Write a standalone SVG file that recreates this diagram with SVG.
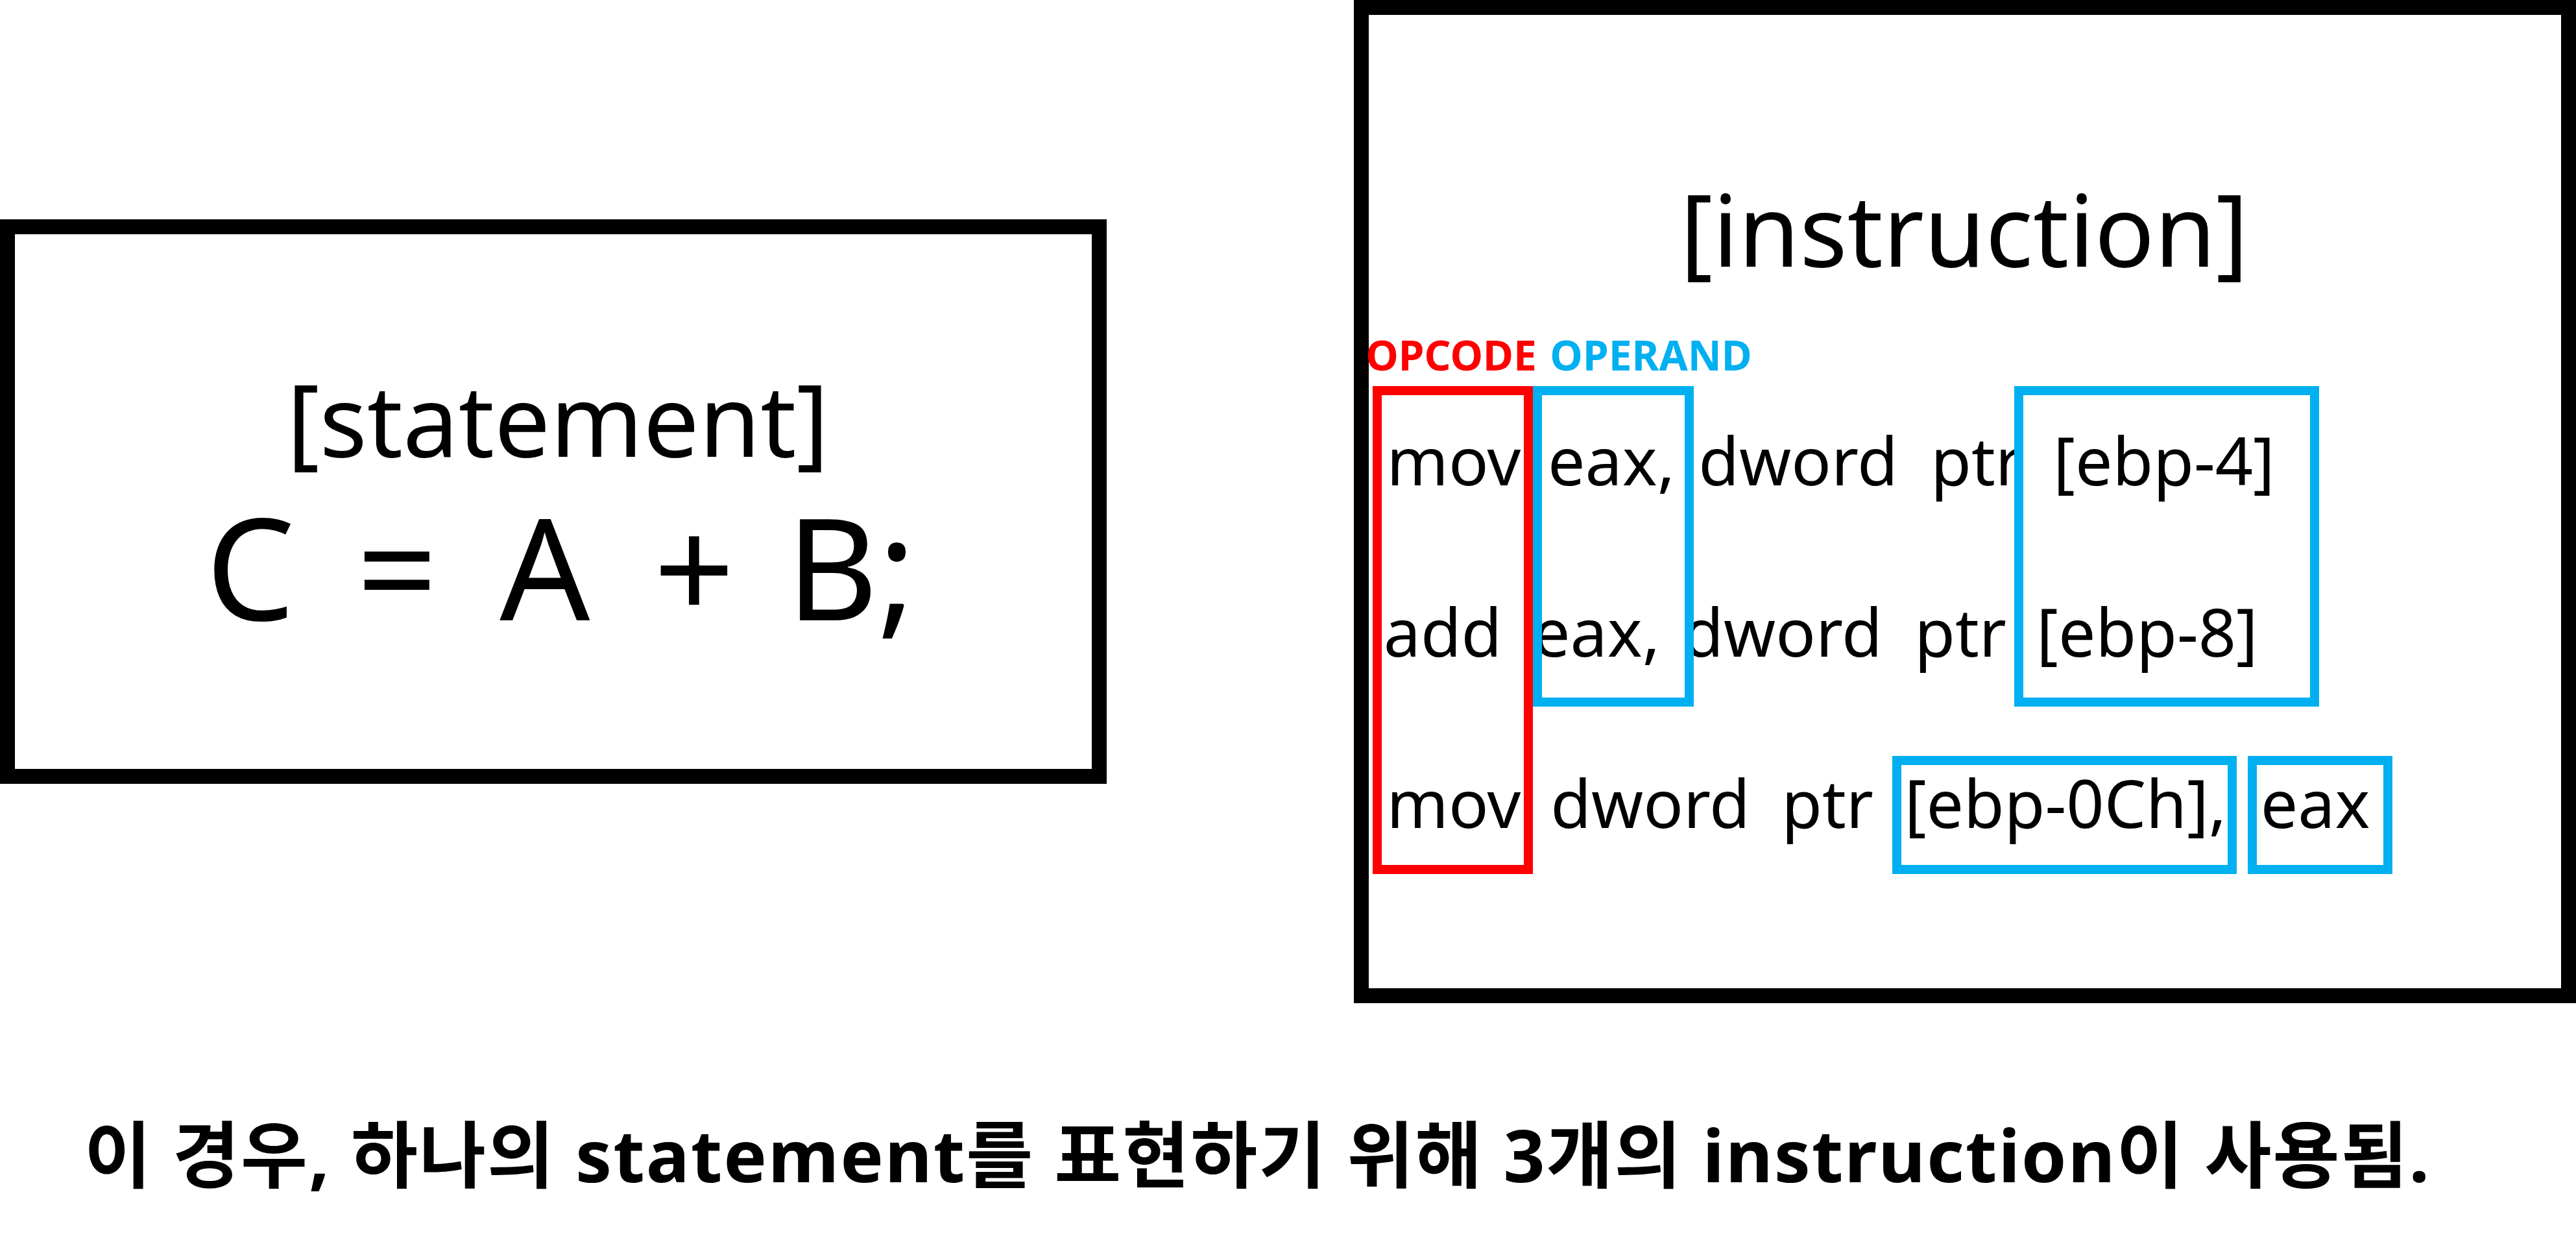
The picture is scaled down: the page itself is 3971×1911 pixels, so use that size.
<svg xmlns="http://www.w3.org/2000/svg" width="3971" height="1911" viewBox="0 0 3971 1911">
<style>
.frame{fill:#fff;stroke:#000;stroke-width:23}
.hl{fill:none;stroke-width:14}
.red{stroke:#FF0000}
.blue{stroke:#00B0F0}
.t{font-family:"Noto Sans","Open Sans","Noto Sans CJK KR",sans-serif;fill:#000}
.title{font-size:153px;text-anchor:middle}
.expr{font-size:218px;text-anchor:middle}
.asm{font-size:102px;text-anchor:middle}
.lbl{font-size:64px;font-weight:bold;text-anchor:middle}
.note{font-family:"Noto Sans","Noto Sans CJK KR",sans-serif;font-size:112px;font-weight:bold;fill:#000}
</style>
<rect width="3971" height="1911" fill="#fff"/>
<g id="statement">
<rect class="frame" x="11.5" y="349.5" width="1683" height="847"/>
<text class="t title" x="860" y="704">[statement]</text>
<text class="t expr" y="956"><tspan x="386">C</tspan><tspan x="612">=</tspan><tspan x="840">A</tspan><tspan x="1070">+</tspan><tspan x="1312">B;</tspan></text>
</g>
<g id="instruction">
<rect class="frame" x="2098.5" y="11.5" width="1861" height="1523"/>
<text class="t title" x="3028" y="411">[instruction]</text>
<text class="t asm" y="748"><tspan x="2241">mov</tspan><tspan x="2484">eax,</tspan><tspan x="2772">dword</tspan><tspan x="3047">ptr</tspan><tspan x="3336">[ebp-4]</tspan></text>
<text class="t asm" y="1012"><tspan x="2224">add</tspan><tspan x="2461">eax,</tspan><tspan x="2748">dword</tspan><tspan x="3022">ptr</tspan><tspan x="3310">[ebp-8]</tspan></text>
<text class="t asm" y="1276"><tspan x="2241">mov</tspan><tspan x="2544">dword</tspan><tspan x="2817">ptr</tspan><tspan x="3184">[ebp-0Ch],</tspan><tspan x="3569">eax</tspan></text>
</g>
<g id="opcode">
<text class="t lbl" x="2237" y="571" style="fill:#FF0000">OPCODE</text>
<rect class="hl red" x="2123" y="602" width="233" height="738"/>
</g>
<g id="operand">
<text class="t lbl" x="2545" y="571" style="fill:#00B0F0">OPERAND</text>
<rect class="hl blue" x="2370" y="602" width="234" height="480"/>
<rect class="hl blue" x="3112" y="602" width="456" height="480"/>
<rect class="hl blue" x="2924" y="1172" width="517" height="168"/>
<rect class="hl blue" x="3472" y="1172" width="209" height="168"/>
</g>
<g id="connectors"></g>
<g id="caption">
<text class="note" x="130" y="1822" textLength="3615" lengthAdjust="spacing">이 경우, 하나의 statement를 표현하기 위해 3개의 instruction이 사용됨.</text>
</g>
</svg>
